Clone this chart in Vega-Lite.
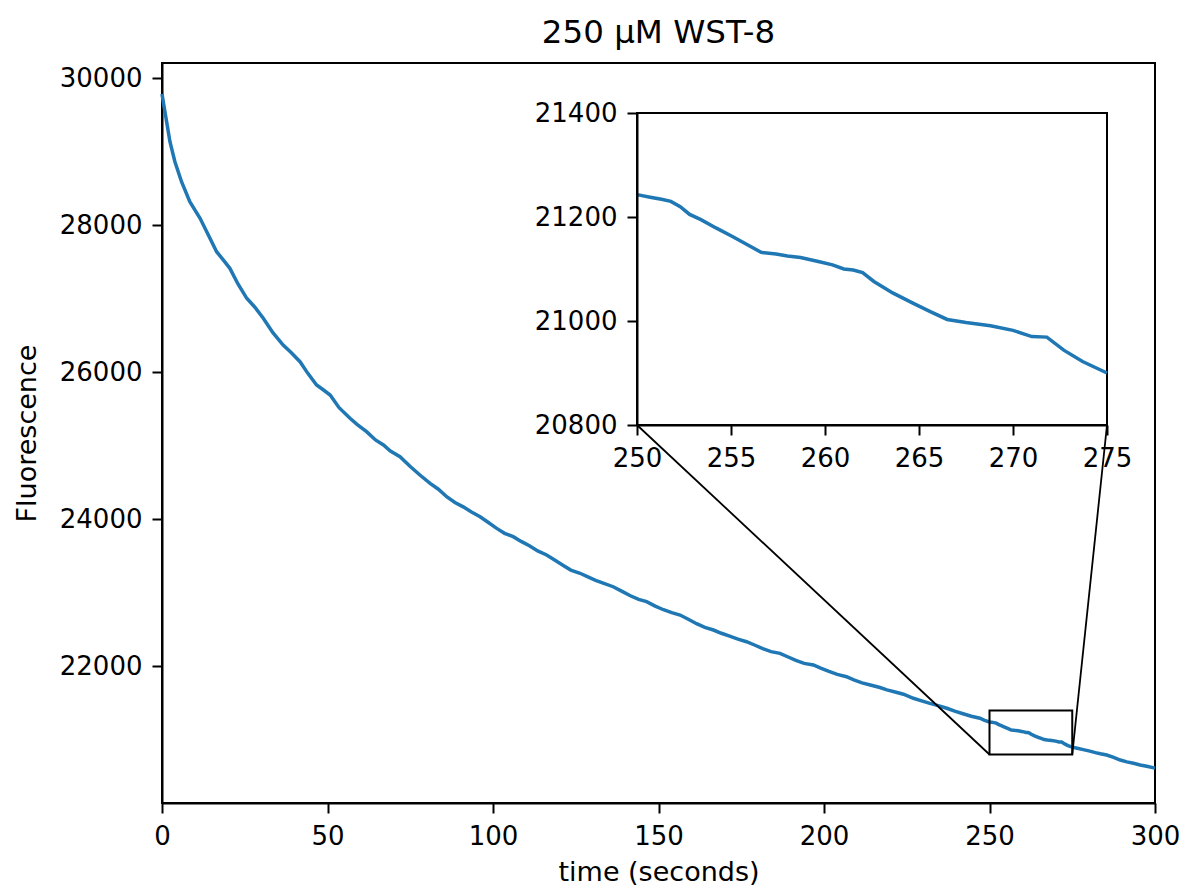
{
  "$schema": "https://vega.github.io/schema/vega-lite/v6.json",
  "width": 993,
  "height": 740,
  "autosize": {"type": "none"},
  "padding": {"left": 162, "top": 63, "right": 26, "bottom": 85},
  "background": "white",
  "title": {
    "text": "250 µM WST-8",
    "font": "DejaVu Sans",
    "fontSize": 32.5,
    "fontWeight": "normal",
    "color": "black",
    "offset": 14
  },
  "datasets": {
    "fluor": [
      {"t": 0, "f": 29790}, {"t": 0.5, "f": 29650}, {"t": 1.4, "f": 29411}, {"t": 2.4, "f": 29139},
      {"t": 3.9, "f": 28867}, {"t": 5.9, "f": 28594}, {"t": 8.4, "f": 28322}, {"t": 11.5, "f": 28097},
      {"t": 14, "f": 27870}, {"t": 16.5, "f": 27642}, {"t": 18.5, "f": 27530}, {"t": 20.5, "f": 27416},
      {"t": 23, "f": 27200}, {"t": 25.6, "f": 27008}, {"t": 28, "f": 26890}, {"t": 30.6, "f": 26736},
      {"t": 33.5, "f": 26540}, {"t": 36.6, "f": 26372}, {"t": 39, "f": 26270}, {"t": 41.7, "f": 26145},
      {"t": 44, "f": 25990}, {"t": 46.7, "f": 25828}, {"t": 48.8, "f": 25760}, {"t": 50.8, "f": 25692},
      {"t": 53.5, "f": 25520}, {"t": 56.8, "f": 25375}, {"t": 59, "f": 25290}, {"t": 61.8, "f": 25193},
      {"t": 64.5, "f": 25080}, {"t": 66.9, "f": 25012}, {"t": 69, "f": 24930}, {"t": 71.9, "f": 24853},
      {"t": 75, "f": 24720}, {"t": 78, "f": 24600}, {"t": 81, "f": 24490}, {"t": 83.5, "f": 24410},
      {"t": 86, "f": 24308}, {"t": 88.5, "f": 24230}, {"t": 91, "f": 24170}, {"t": 93.5, "f": 24100},
      {"t": 96.1, "f": 24036}, {"t": 98.5, "f": 23960}, {"t": 101, "f": 23880}, {"t": 103.5, "f": 23810},
      {"t": 106.1, "f": 23764}, {"t": 108.5, "f": 23700}, {"t": 111, "f": 23640}, {"t": 113.5, "f": 23570},
      {"t": 116.2, "f": 23515}, {"t": 118.5, "f": 23450}, {"t": 121, "f": 23380}, {"t": 123.5, "f": 23310},
      {"t": 126.3, "f": 23266}, {"t": 128.5, "f": 23220}, {"t": 131, "f": 23170}, {"t": 133.5, "f": 23130},
      {"t": 136.3, "f": 23083}, {"t": 139, "f": 23020}, {"t": 141.5, "f": 22960}, {"t": 144, "f": 22910},
      {"t": 146.4, "f": 22880}, {"t": 149, "f": 22820}, {"t": 151.5, "f": 22770}, {"t": 154, "f": 22730},
      {"t": 156.5, "f": 22698}, {"t": 159, "f": 22640}, {"t": 161.5, "f": 22580}, {"t": 164, "f": 22530},
      {"t": 166.6, "f": 22494}, {"t": 169, "f": 22450}, {"t": 171.5, "f": 22410}, {"t": 174, "f": 22370},
      {"t": 176.6, "f": 22335}, {"t": 179, "f": 22290}, {"t": 181.5, "f": 22240}, {"t": 184, "f": 22200},
      {"t": 186.7, "f": 22177}, {"t": 189, "f": 22130}, {"t": 191.5, "f": 22080}, {"t": 194, "f": 22040},
      {"t": 196.8, "f": 22018}, {"t": 199, "f": 21975}, {"t": 201.5, "f": 21930}, {"t": 204, "f": 21890},
      {"t": 206.8, "f": 21859}, {"t": 209, "f": 21815}, {"t": 211.5, "f": 21775}, {"t": 214, "f": 21745},
      {"t": 216.9, "f": 21712}, {"t": 219, "f": 21680}, {"t": 221.5, "f": 21650}, {"t": 224, "f": 21620},
      {"t": 227, "f": 21565}, {"t": 229.5, "f": 21530}, {"t": 232, "f": 21495}, {"t": 234.5, "f": 21465},
      {"t": 237.1, "f": 21429}, {"t": 239.5, "f": 21390}, {"t": 242, "f": 21355}, {"t": 244.5, "f": 21320},
      {"t": 247.1, "f": 21293}, {"t": 248.5, "f": 21265},
      {"t": 250.0, "f": 21243}, {"t": 250.7, "f": 21238}, {"t": 251.3, "f": 21234}, {"t": 251.8, "f": 21230},
      {"t": 252.3, "f": 21220}, {"t": 252.8, "f": 21205}, {"t": 253.4, "f": 21195}, {"t": 254.2, "f": 21179},
      {"t": 255.1, "f": 21162}, {"t": 255.8, "f": 21148}, {"t": 256.6, "f": 21132}, {"t": 257.4, "f": 21129},
      {"t": 258.0, "f": 21125}, {"t": 258.7, "f": 21122}, {"t": 259.7, "f": 21114}, {"t": 260.4, "f": 21108},
      {"t": 261.0, "f": 21100}, {"t": 261.5, "f": 21098}, {"t": 262.0, "f": 21093}, {"t": 262.6, "f": 21076},
      {"t": 263.6, "f": 21054}, {"t": 264.7, "f": 21034}, {"t": 265.6, "f": 21018}, {"t": 266.5, "f": 21003},
      {"t": 267.5, "f": 20997}, {"t": 268.8, "f": 20991}, {"t": 270.0, "f": 20982}, {"t": 271.0, "f": 20970},
      {"t": 271.8, "f": 20969}, {"t": 272.7, "f": 20944}, {"t": 273.7, "f": 20922}, {"t": 275.0, "f": 20900},
      {"t": 276.5, "f": 20885}, {"t": 278, "f": 20870}, {"t": 280, "f": 20850}, {"t": 282, "f": 20825},
      {"t": 283.5, "f": 20810}, {"t": 285.4, "f": 20793}, {"t": 287.5, "f": 20760}, {"t": 289.5, "f": 20725},
      {"t": 291.5, "f": 20700}, {"t": 293.5, "f": 20680}, {"t": 295.5, "f": 20657}, {"t": 297.5, "f": 20640},
      {"t": 300, "f": 20615}
    ],
    "zoombox": [{"t": 250, "t2": 275, "f": 20800, "f2": 21400}],
    "connectors": [
      {"t": 250, "f": 20800, "t2": 143.5, "f2": 25284},
      {"t": 275, "f": 20800, "t2": 285.5, "f2": 25284}
    ]
  },
  "config": {
    "view": {"stroke": "black", "strokeWidth": 2},
    "font": "DejaVu Sans",
    "axis": {
      "grid": false,
      "domainColor": "black",
      "domainWidth": 2,
      "tickColor": "black",
      "tickWidth": 2,
      "tickSize": 10,
      "labelColor": "black",
      "labelFont": "DejaVu Sans",
      "labelFontSize": 26,
      "labelPadding": 10,
      "labelFlush": false,
      "labelOverlap": false,
      "titleColor": "black",
      "titleFont": "DejaVu Sans",
      "titleFontSize": 27,
      "titleFontWeight": "normal"
    },
    "axisX": {"titlePadding": 10},
    "axisY": {"titlePadding": 18}
  },
  "resolve": {"scale": {"x": "independent", "y": "independent"}},
  "layer": [
    {
      "data": {"name": "fluor"},
      "mark": {"type": "line", "color": "#1f77b4", "strokeWidth": 3.5},
      "encoding": {
        "x": {
          "field": "t", "type": "quantitative",
          "scale": {"domain": [0, 300], "nice": false, "zero": false},
          "axis": {"title": "time (seconds)", "orient": "bottom", "values": [0, 50, 100, 150, 200, 250, 300]}
        },
        "y": {
          "field": "f", "type": "quantitative",
          "scale": {"domain": [20140, 30210], "nice": false, "zero": false},
          "axis": {"title": "Fluorescence", "orient": "left", "values": [22000, 24000, 26000, 28000, 30000], "format": "d"}
        }
      }
    },
    {
      "data": {"name": "zoombox"},
      "mark": {"type": "rect", "fillOpacity": 0, "stroke": "black", "strokeWidth": 2},
      "encoding": {
        "x": {"field": "t", "type": "quantitative", "scale": {"domain": [0, 300], "nice": false, "zero": false}, "axis": null},
        "x2": {"field": "t2"},
        "y": {"field": "f", "type": "quantitative", "scale": {"domain": [20140, 30210], "nice": false, "zero": false}, "axis": null},
        "y2": {"field": "f2"}
      }
    },
    {
      "data": {"name": "connectors"},
      "mark": {"type": "rule", "color": "black", "strokeWidth": 1.8},
      "encoding": {
        "x": {"field": "t", "type": "quantitative", "scale": {"domain": [0, 300], "nice": false, "zero": false}, "axis": null},
        "x2": {"field": "t2"},
        "y": {"field": "f", "type": "quantitative", "scale": {"domain": [20140, 30210], "nice": false, "zero": false}, "axis": null},
        "y2": {"field": "f2"}
      }
    },
    {
      "data": {"name": "zoombox"},
      "mark": {"type": "rect", "fill": "white", "stroke": "black", "strokeWidth": 2},
      "encoding": {
        "x": {"field": "t", "type": "quantitative", "scale": {"domain": [250, 275], "range": [475, 945], "nice": false, "zero": false}, "axis": null},
        "x2": {"field": "t2"},
        "y": {"field": "f", "type": "quantitative", "scale": {"domain": [20800, 21400], "range": [362, 50], "nice": false, "zero": false}, "axis": null},
        "y2": {"field": "f2"}
      }
    },
    {
      "data": {"name": "fluor"},
      "transform": [{"filter": "datum.t >= 250 && datum.t <= 275"}],
      "mark": {"type": "line", "color": "#1f77b4", "strokeWidth": 3.5},
      "encoding": {
        "x": {
          "field": "t", "type": "quantitative",
          "scale": {"domain": [250, 275], "range": [475, 945], "nice": false, "zero": false},
          "axis": {"title": null, "orient": "bottom", "offset": -378, "zindex": 1, "values": [250, 255, 260, 265, 270, 275]}
        },
        "y": {
          "field": "f", "type": "quantitative",
          "scale": {"domain": [20800, 21400], "range": [362, 50], "nice": false, "zero": false},
          "axis": {"title": null, "orient": "left", "offset": -475, "zindex": 1, "values": [20800, 21000, 21200, 21400], "format": "d"}
        }
      }
    }
  ]
}
